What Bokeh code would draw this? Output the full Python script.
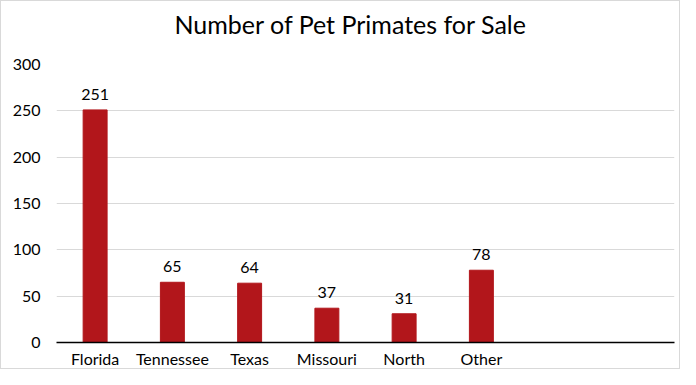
from bokeh.plotting import figure
from bokeh.models import ColumnDataSource, FixedTicker, Range1d, LabelSet, Title
from bokeh.core.properties import value
from bokeh.embed import file_html
from bokeh.resources import INLINE

states = ["Florida", "Tennessee", "Texas", "Missouri", "North", "Other"]
counts = [251, 65, 64, 37, 31, 78]
y_ticks = [0, 50, 100, 150, 200, 250, 300]
n_slots = 8

xs = [i + 0.5 for i in range(len(states))]
src = ColumnDataSource(dict(x=xs, top=counts, label=[str(c) for c in counts]))

FONT = "Lato"
p = figure(width=680, height=369, output_backend="svg", toolbar_location=None,
           x_range=Range1d(0, n_slots), y_range=Range1d(0, 300),
           min_border_left=55, min_border_right=7, min_border_top=60, min_border_bottom=26)
p.title = None
p.add_layout(Title(text=" ", text_font_size="8px"), "above")
p.add_layout(Title(text="Number of Pet Primates for Sale", align="left", offset=118,
                   text_font=FONT, text_font_size="25px", text_font_style="normal",
                   text_color="#000000"), "above")

p.vbar(x="x", top="top", width=0.31, source=src, color="#B2161B")
labels = LabelSet(x="x", y="top", text="label", source=src, text_align="center",
                  text_baseline="bottom", y_offset=10, text_font=value(FONT),
                  text_font_size=value("16px"), text_color="#000000")
p.add_layout(labels)

p.xaxis.ticker = FixedTicker(ticks=xs)
p.xaxis.major_label_overrides = {x: s for x, s in zip(xs, states)}
p.yaxis.ticker = FixedTicker(ticks=y_ticks)
for ax in (p.xaxis, p.yaxis):
    ax.major_tick_line_color = None
    ax.minor_tick_line_color = None
    ax.major_tick_out = 0
    ax.major_tick_in = 0
    ax.major_label_text_font = FONT
    ax.major_label_text_font_size = "16px"
    ax.major_label_text_color = "#000000"
p.yaxis.axis_line_color = None
p.xaxis.axis_line_color = "#000000"
p.xaxis.axis_line_width = 1.5
p.xaxis.major_label_standoff = 6
p.yaxis.major_label_standoff = 16
p.xgrid.grid_line_color = None
p.ygrid.grid_line_color = "#D9D9D9"
p.outline_line_color = None
p.styles = {"border": "1px solid #D9D9D9", "box-sizing": "border-box"}

open("out.html", "w").write(file_html(p, INLINE))
